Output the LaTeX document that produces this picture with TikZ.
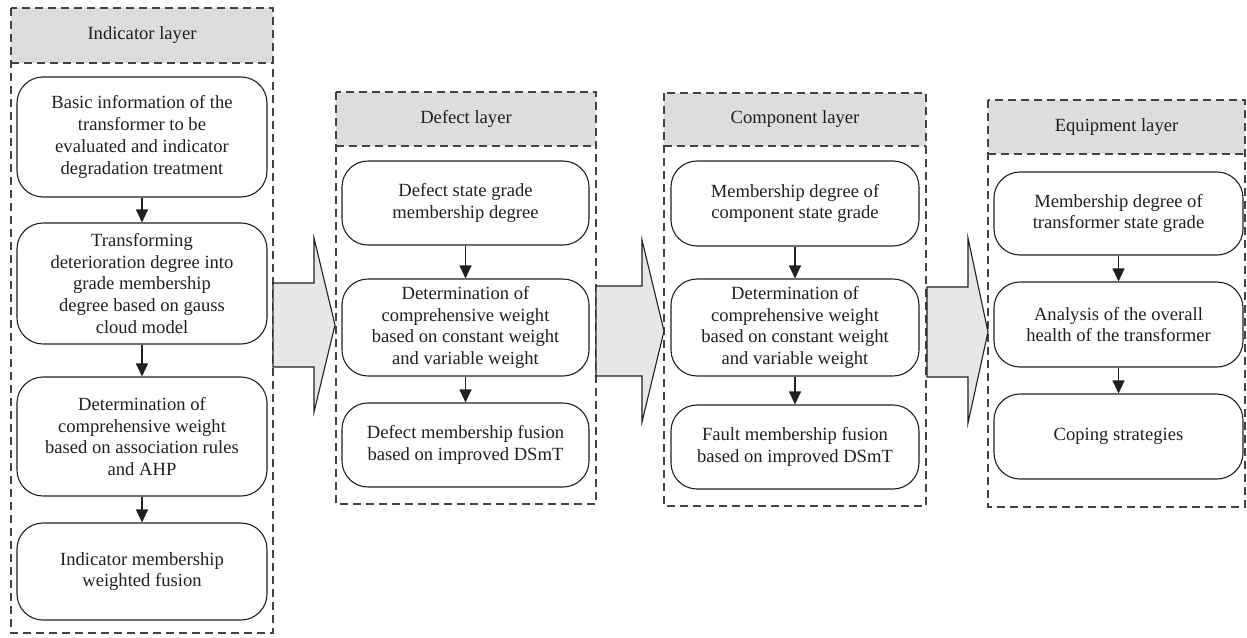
\documentclass[tikz,border=0pt]{standalone}
\usepackage{fontspec}
\setmainfont{Liberation Serif}
\usetikzlibrary{arrows.meta}
\definecolor{ink}{HTML}{231F20}
\definecolor{hdr}{HTML}{DCDDDE}
\definecolor{arr}{HTML}{E6E7E8}
\begin{document}
\begin{tikzpicture}[x=1pt,y=-1pt,
  box/.style={draw=ink, line width=1.1pt, rounded corners=26pt, align=center, text=ink,
    font=\fontsize{18.6}{21.7}\selectfont, inner sep=2pt},
  col/.style={draw=ink!85, line width=1.1pt, dash pattern=on 8pt off 5pt},
  hdrtext/.style={text=ink, font=\fontsize{18.6}{21.7}\selectfont},
  flow/.style={draw=ink, line width=1.1pt, -{Triangle[length=13pt,width=12pt]}},
  bigarrow/.style={draw=ink, line width=1.1pt, fill=arr, line join=miter}
]
\useasboundingbox (0,0) rectangle (1247,637);

% ---------- columns ----------
% Indicator
\fill[hdr] (11,8) rectangle (273,63);
\draw[col] (11,8) rectangle (273,633);
\draw[col] (11,63) -- (273,63);
\node[hdrtext] (hI) at (142,35.5) {Indicator layer};
% Defect
\fill[hdr] (336,92) rectangle (596,146);
\draw[col] (336,92) rectangle (596,504);
\draw[col] (336,146) -- (596,146);
\node[hdrtext] (hD) at (466,119) {Defect layer};
% Component
\fill[hdr] (664,93) rectangle (926,146);
\draw[col] (664,93) rectangle (926,506);
\draw[col] (664,146) -- (926,146);
\node[hdrtext] (hC) at (795,119.5) {Component layer};
% Equipment
\fill[hdr] (988,100) rectangle (1245,154);
\draw[col] (988,100) rectangle (1245,507);
\draw[col] (988,154) -- (1245,154);
\node[hdrtext] (hE) at (1116.5,127) {Equipment layer};

% ---------- boxes ----------
\node[box, minimum width=250pt, minimum height=120pt] (i1) at (142,137)
  {Basic information of the\\transformer to be\\evaluated and indicator\\degradation treatment};
\node[box, minimum width=250pt, minimum height=121pt] (i2) at (142,283.5)
  {Transforming\\deterioration degree into\\grade membership\\degree based on gauss\\cloud model};
\node[box, minimum width=250pt, minimum height=119pt] (i3) at (142,436.5)
  {Determination of\\comprehensive weight\\based on association rules\\and AHP};
\node[box, minimum width=250pt, minimum height=97pt] (i4) at (142,571.5)
  {Indicator membership\\weighted fusion};

\node[box, minimum width=247pt, minimum height=84pt] (d1) at (465.5,203)
  {Defect state grade\\membership degree};
\node[box, minimum width=247pt, minimum height=97pt] (d2) at (465.5,327.5)
  {Determination of\\comprehensive weight\\based on constant weight\\and variable weight};
\node[box, minimum width=247pt, minimum height=84pt] (d3) at (465.5,445)
  {Defect membership fusion\\based on improved DSmT};

\node[box, minimum width=248pt, minimum height=85pt] (c1) at (795,203.5)
  {Membership degree of\\component state grade};
\node[box, minimum width=248pt, minimum height=97pt] (c2) at (795,327.5)
  {Determination of\\comprehensive weight\\based on constant weight\\and variable weight};
\node[box, minimum width=248pt, minimum height=84pt] (c3) at (795,447)
  {Fault membership fusion\\based on improved DSmT};

\node[box, minimum width=249pt, minimum height=83pt] (e1) at (1118.5,213.5)
  {Membership degree of\\transformer state grade};
\node[box, minimum width=249pt, minimum height=85pt] (e2) at (1118.5,324.5)
  {Analysis of the overall\\health of the transformer};
\node[box, minimum width=249pt, minimum height=85pt] (e3) at (1118.5,436.5)
  {Coping strategies};

% ---------- flow arrows ----------
\draw[flow] (i1) -- (i2);
\draw[flow] (i2) -- (i3);
\draw[flow] (i3) -- (i4);
\draw[flow] (d1) -- (d2);
\draw[flow] (d2) -- (d3);
\draw[flow] (c1) -- (c2);
\draw[flow] (c2) -- (c3);
\draw[flow] (e1) -- (e2);
\draw[flow] (e2) -- (e3);

% ---------- big block arrows ----------
\draw[bigarrow] (273,283) -- (314,283) -- (314,238) -- (335,325) -- (314,412) -- (314,367) -- (273,367) -- cycle;
\draw[bigarrow] (596,286) -- (642,286) -- (642,240) -- (664,331) -- (642,422) -- (642,376) -- (596,376) -- cycle;
\draw[bigarrow] (927,287) -- (968,287) -- (968,238) -- (988,332) -- (968,423) -- (968,377) -- (927,377) -- cycle;
\end{tikzpicture}
\end{document}
